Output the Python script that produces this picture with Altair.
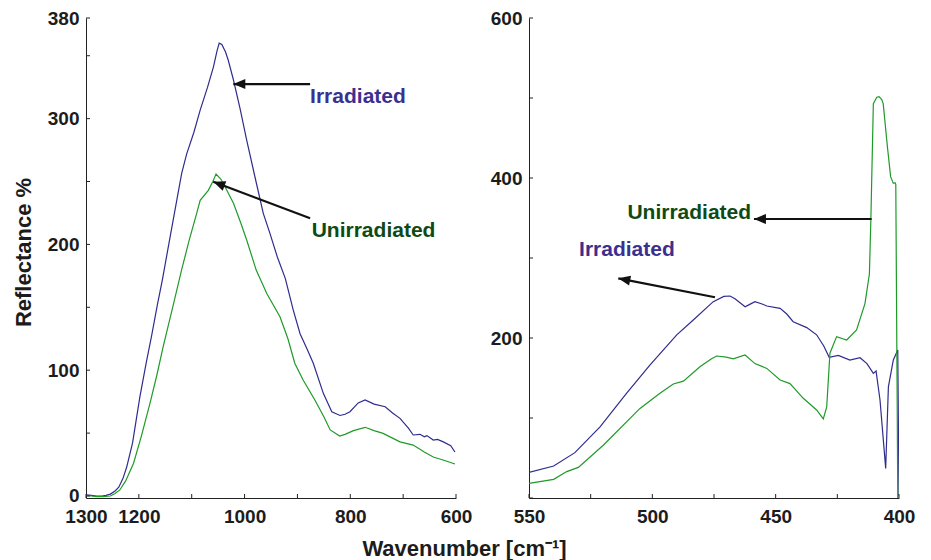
import altair as alt
import pandas as pd

# ---------------- data ----------------
# Left panel: 1300-600 cm-1
left_irr_x = [1300, 1290, 1280, 1270, 1262, 1254, 1245, 1238, 1230, 1223, 1212, 1198, 1186, 1176, 1165,
              1155.6, 1140, 1119, 1109.5, 1096, 1084, 1070, 1059, 1052, 1048, 1043, 1036, 1031, 1021,
              1008, 996, 980, 964.6, 952, 938, 923, 908, 895, 882, 870, 851, 835, 819.5, 810, 800.6,
              785, 772, 755, 734, 720, 706, 690, 681, 668, 660, 655, 643, 635, 624, 610, 602]
left_irr_y = [1.0, 0.5, 0.0, 0.0, 0.5, 1.5, 4, 7, 14, 23, 42, 79, 106, 127, 152,
              171.7, 208, 256.5, 272, 289, 306.8, 325, 341, 354, 360, 359, 353, 346.6, 330.7,
              307, 283, 253, 224.7, 208.8, 190, 173, 148, 129, 117, 105.5, 81.6, 67, 64, 65, 67,
              74, 76.3, 73, 71, 66, 61.7, 54, 48.5, 49, 47, 48, 44.5, 45, 43, 40, 35]

left_unirr_x = [1300, 1290, 1280, 1268, 1254, 1245, 1236, 1225, 1210, 1195, 1179, 1166, 1154, 1136,
                1119, 1105, 1090.6, 1084, 1068.6, 1060, 1054, 1045, 1037, 1021, 1008, 996, 978, 958,
                933, 918, 905, 889, 867, 850, 838, 820, 810, 794, 772, 755, 738, 720, 706, 681, 660,
                643, 620, 602]
left_unirr_y = [0.5, 0.0, -0.5, -0.5, 0.0, 2, 4.8, 12, 26, 48, 73.7, 96, 118.7, 150,
                180, 203, 224.7, 235, 243, 250, 256, 252, 245.8, 232.7, 218, 203.5, 179.6, 161,
                142.5, 125, 105.5, 92, 76.3, 63, 52.5, 47.7, 49, 52, 54.6, 52, 49.8, 46, 43, 40.5, 35,
                31, 28, 25.4]

# Right panel: 550-400 cm-1
right_irr_x = [550, 540, 531.4, 521.2, 510.4, 501, 490.1, 483.4, 475.3, 471, 468.5, 466.5, 462.4,
               460.5, 458.4, 455.5, 453.6, 448.2, 445.5, 442.9, 437.4, 433.4, 430.5, 428.3, 424.6,
               419.9, 415.8, 413, 410.4, 409.3, 407.7, 405.4, 404.3, 402.3, 400.5, 400.0]
right_irr_y = [32, 40, 56.7, 89, 131, 166, 204, 222.5, 245.4, 252, 252.5, 249, 239,
               242, 245.4, 242.5, 240, 237, 230, 220.4, 213, 204, 190, 175.8, 178.3,
               172.5, 175.4, 168, 155.8, 158.8, 122.5, 37, 139, 172.5, 185, 2]

right_unirr_x = [550, 540, 534.7, 530, 519.9, 505, 496.9, 491.5, 487.4, 480.7, 476, 473.9, 470,
                 467.2, 462.4, 458.4, 453.6, 448.2, 444.2, 438.8, 433.4, 430.7, 429.3, 428, 425.3,
                 421.2, 417.2, 413.8, 412, 411.4, 410.4, 409, 408.1, 407, 406.4, 404.7, 403.4,
                 402.3, 401.6, 401.3, 400.8, 400.5]
right_unirr_y = [18.3, 23.3, 33, 38.3, 66, 112, 131, 142.5, 146, 164, 174, 177.5, 176,
                 174, 178.8, 168, 162, 147.5, 143, 124.6, 110, 98.8, 114, 181, 201.7,
                 197.5, 210, 243, 280, 348.7, 493, 501, 501.7, 498, 493, 439, 401.7,
                 393.3, 394, 392, 150, 0]

# axis labels / ticks
left_x_labels = [1300, 1200, 1000, 800, 600]
left_x_ticks = [1300, 1200, 1100, 1000, 900, 800, 700, 600]
left_y_labels = [0, 100, 200, 300, 380]
left_y_ticks = [0, 50, 100, 150, 200, 250, 300, 350, 380]
right_x_labels = [550, 500, 450, 400]
right_x_ticks = [550, 525, 500, 475, 450, 425, 400]
right_y_labels = [200, 400, 600]
right_y_ticks = [0, 100, 200, 300, 400, 500, 600]

# annotations
series_names = ["Irradiated", "Unirradiated"]
left_ann_x = [876, 873]
left_ann_y = [317, 210.5]
left_arrow_x = [876, 876]
left_arrow_y = [327.5, 220.8]
left_arrow_x2 = [1021.3, 1059.2]
left_arrow_y2 = [327.5, 249.8]
left_arrow_angle = [0, 20.7]

right_ann_x = [529.7, 510.1]
right_ann_y = [309.4, 356.5]
right_arrow_x = [474.6, 411.1]
right_arrow_y = [250.9, 348.75]
right_arrow_x2 = [513.8, 458.8]
right_arrow_y2 = [274.6, 348.75]
right_arrow_angle = [11.1, 0]

# ---------------- styling ----------------
FONT = "Liberation Sans"
BLUE_LINE = "#2f2c8e"
GREEN_LINE = "#1f9a28"
BLUE_TEXT = "#3b2f8f"
GREEN_TEXT = "#0e4a16"
AXIS_COLOR = "#222222"
LABEL_COLOR = "#1c1c1c"
W, H = 370, 480
ARROW_PATH = "M0,0 L1,-0.42 L1,0.42 Z"


def line_df(xs, ys, name):
    return pd.DataFrame({"wn": xs, "r": ys, "series": name, "i": list(range(len(xs)))})


def panel(irr_x, irr_y, un_x, un_y, xdom, ydom, xlabels, xticks, ylabels, yticks,
          ann_x, ann_y, ax, ay, ax2, ay2, aang, xtitle, ytitle):
    df = pd.concat([line_df(irr_x, irr_y, "Irradiated"), line_df(un_x, un_y, "Unirradiated")])
    xs = alt.Scale(domain=xdom, reverse=True, nice=False, zero=False)
    ys = alt.Scale(domain=ydom, nice=False, zero=False)

    xaxis_kw = dict(values=xlabels, format="d", ticks=False, grid=False, domainColor=AXIS_COLOR,
                    domainWidth=1, labelFont=FONT, labelFontSize=19, labelFontWeight="bold",
                    labelColor=LABEL_COLOR, labelPadding=9, labelFlush=False, labelOverlap=False)
    if xtitle:
        xaxis = alt.Axis(title=xtitle, titleFont=FONT, titleFontSize=22, titleFontWeight="bold",
                         titleColor=LABEL_COLOR, titleX=378, titleY=57, titleAlign="center",
                         titleBaseline="alphabetic", **xaxis_kw)
    else:
        xaxis = alt.Axis(title=None, **xaxis_kw)
    yaxis_kw = dict(values=ylabels, format="d", ticks=False, grid=False, domainColor=AXIS_COLOR,
                    domainWidth=1, labelFont=FONT, labelFontSize=19, labelFontWeight="bold",
                    labelColor=LABEL_COLOR, labelPadding=7, labelFlush=False, labelOverlap=False)
    if ytitle:
        yaxis = alt.Axis(title=ytitle, titleFont=FONT, titleFontSize=22, titleFontWeight="bold",
                         titleColor=LABEL_COLOR, titleX=-63, titleY=234, titleAngle=270,
                         titleAlign="center", titleBaseline="middle", **yaxis_kw)
    else:
        yaxis = alt.Axis(title=None, **yaxis_kw)

    X = lambda f: alt.X(f, scale=xs, axis=xaxis)
    Y = lambda f: alt.Y(f, scale=ys, axis=yaxis)

    lines = alt.Chart(df).mark_line(strokeWidth=1.2, clip=True).encode(
        x=X("wn:Q"),
        y=Y("r:Q"),
        color=alt.Color("series:N", scale=alt.Scale(domain=series_names, range=[BLUE_LINE, GREEN_LINE]),
                        legend=None),
        order="i:Q",
    )
    xt = alt.Chart(pd.DataFrame({"wn": xticks})).mark_rule(color=AXIS_COLOR, strokeWidth=1).encode(
        x=X("wn:Q"), y=alt.value(H), y2=alt.value(H - 4))
    yt = alt.Chart(pd.DataFrame({"r": yticks})).mark_rule(color=AXIS_COLOR, strokeWidth=1).encode(
        y=Y("r:Q"), x=alt.value(0), x2=alt.value(4))

    ann = pd.DataFrame({"wn": ann_x, "r": ann_y, "label": series_names, "c": [BLUE_TEXT, GREEN_TEXT]})
    texts = alt.Chart(ann).mark_text(align="left", baseline="middle", font=FONT, fontSize=21,
                                     fontWeight="bold").encode(
        x=X("wn:Q"), y=Y("r:Q"),
        text="label:N", color=alt.Color("c:N", scale=None))

    arr = pd.DataFrame({"wn": ax, "r": ay, "wn2": ax2, "r2": ay2, "ang": aang})
    shafts = alt.Chart(arr).mark_rule(color="#111111", strokeWidth=2.2).encode(
        x=X("wn:Q"), y=Y("r:Q"), x2="wn2:Q", y2="r2:Q")
    heads = alt.Chart(arr).mark_point(shape=ARROW_PATH, size=576, filled=True, color="#111111",
                                      opacity=1, strokeWidth=0).encode(
        x=X("wn2:Q"), y=Y("r2:Q"),
        angle=alt.Angle("ang:Q", scale=None))

    return alt.layer(lines, xt, yt, shafts, heads, texts).properties(width=W, height=H)


left = panel(left_irr_x, left_irr_y, left_unirr_x, left_unirr_y, [600, 1300], [-1.6, 380],
             left_x_labels, left_x_ticks, left_y_labels, left_y_ticks,
             left_ann_x, left_ann_y, left_arrow_x, left_arrow_y, left_arrow_x2, left_arrow_y2,
             left_arrow_angle, "Wavenumber [cm\u207B\u00B9]", "Reflectance %")
right = panel(right_irr_x, right_irr_y, right_unirr_x, right_unirr_y, [400, 550], [0, 600],
              right_x_labels, right_x_ticks, right_y_labels, right_y_ticks,
              right_ann_x, right_ann_y, right_arrow_x, right_arrow_y, right_arrow_x2, right_arrow_y2,
              right_arrow_angle, None, None)

chart = alt.hconcat(left, right, spacing=73, bounds="flush").properties(
    padding={"left": 12, "top": 9, "right": 5, "bottom": 5},
    background="white",
).configure_view(stroke=None)

chart.save("out.html", embed_options={"renderer": "svg", "actions": False})
